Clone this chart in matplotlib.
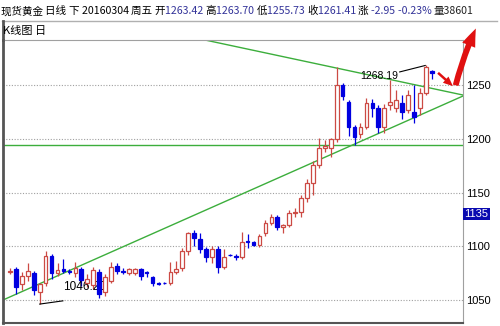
import matplotlib
matplotlib.use('Agg')
import matplotlib.pyplot as plt
from matplotlib.patches import FancyArrowPatch
from matplotlib.lines import Line2D
import numpy as np

plt.rcParams['font.family'] = ['Noto Sans CJK SC', 'DejaVu Sans']

# --- 日K线数据 ---
opens = [1076, 1079, 1065, 1072, 1075, 1057, 1066, 1091, 1075, 1079,
         1077, 1075, 1079, 1066, 1064, 1076, 1057, 1068, 1082, 1077,
         1075, 1075, 1079, 1076, 1071, 1065.5, 1066, 1066, 1076, 1080,
         1096, 1112, 1107, 1097, 1090, 1097, 1081, 1092, 1091, 1090,
         1105, 1104, 1101, 1112, 1122, 1127, 1118, 1120, 1131, 1132,
         1145, 1159, 1176, 1191, 1191, 1200, 1250, 1234, 1211, 1204,
         1211, 1233, 1229, 1211, 1231, 1229, 1233, 1227, 1225, 1229,
         1243, 1263.42]
highs = [1080, 1081, 1076, 1084, 1077, 1066, 1096, 1093, 1084, 1088,
         1079, 1085, 1081, 1074, 1081, 1079, 1074, 1085, 1084, 1080,
         1080, 1080, 1080, 1077, 1072, 1067, 1067, 1085, 1086, 1098,
         1113, 1115, 1112, 1099, 1100, 1100, 1097, 1093, 1093, 1113,
         1111, 1105, 1111, 1124, 1130, 1129, 1121, 1134, 1136, 1148,
         1163, 1179, 1201, 1199, 1201, 1267, 1252, 1236, 1213, 1215,
         1238, 1237, 1231, 1232, 1255, 1245, 1241, 1245, 1250, 1247,
         1268.19, 1263.70]
lows = [1074, 1056, 1059, 1068, 1055, 1046.2, 1063, 1070, 1072, 1075,
        1074, 1071, 1063, 1062, 1060, 1052, 1054, 1066, 1074, 1074,
        1073, 1073, 1069, 1071, 1063, 1064, 1065, 1064, 1074, 1077,
        1092, 1100, 1094, 1085, 1084, 1075, 1079, 1091, 1087, 1088,
        1098, 1100, 1099, 1110, 1120, 1115, 1112, 1118, 1127, 1127,
        1141, 1148, 1173, 1188, 1183, 1197, 1236, 1203, 1194, 1201,
        1209, 1220, 1205, 1205, 1227, 1225, 1218, 1224, 1215, 1222,
        1241, 1255.73]
closes = [1077, 1062, 1072, 1077, 1059, 1065, 1091, 1075, 1078, 1077,
          1076, 1080, 1069, 1070, 1078, 1056, 1071, 1081, 1077, 1076,
          1079, 1079, 1072, 1075, 1066, 1065, 1065.5, 1076, 1079, 1096,
          1112, 1108, 1097, 1090, 1097, 1081, 1090, 1091.5, 1090, 1104,
          1104, 1101, 1110, 1122, 1127, 1118, 1120, 1131, 1132, 1145,
          1159, 1176, 1191, 1193, 1200, 1250, 1240, 1211, 1202, 1211,
          1233, 1229, 1211, 1229, 1234, 1236, 1225, 1241, 1220, 1243,
          1267, 1261.41]

# 趋势线端点 (K线序号, 价格)
support_x = [-1.18, 76.26]
support_y = [1050.0, 1239.8]
resist_x = [32.83, 76.26]
resist_y = [1291.9, 1240.7]
neckline = 1194.4

yticks = [1050, 1100, 1150, 1200, 1250]
last_label = '1135'

header = [('现货黄金 ', 'black'), ('日线 ', 'black'), ('下 ', 'black'),
          ('20160304 ', 'black'), ('周五 ', 'black'), ('开', 'black'),
          ('1263.42 ', '#333399'), ('高', 'black'), ('1263.70 ', '#333399'),
          ('低', 'black'), ('1255.73 ', '#333399'), ('收', 'black'),
          ('1261.41 ', '#333399'), ('涨 ', 'black'), ('-2.95 ', '#333399'),
          ('-0.23% ', '#333399'), ('量38601', '#222222')]

RED = '#cc4a44'
BLUE = '#0000e0'
GREEN = '#3cae3c'

W, H = 500, 326
fig = plt.figure(figsize=(5.0, 3.26), dpi=100)
ax = fig.add_axes([3 / W, 1 - 323 / H, 460 / W, 283 / H])

x = np.arange(len(opens))
o = np.array(opens); c = np.array(closes)
hi = np.array(highs); lo = np.array(lows)
up = c >= o
col = np.where(up, RED, BLUE)

# 网格
for v in yticks:
    ax.axhline(v, color='#a0a0a0', lw=0.8, ls=(0, (1, 1.5)), zorder=1)

# 影线
ax.vlines(x, lo, hi, colors=col, lw=0.9, zorder=3)
# 实体
body = np.maximum(np.abs(c - o), 0.3)
bottom = np.minimum(o, c)
ax.bar(x[up], body[up], 0.62, bottom[up], facecolor='white',
       edgecolor=RED, lw=0.9, zorder=4)
ax.bar(x[~up], body[~up], 0.62, bottom[~up], facecolor=BLUE,
       edgecolor=BLUE, lw=0.9, zorder=4)

# 趋势线
ax.plot(support_x, support_y, color=GREEN, lw=1.0, zorder=2)
ax.plot(resist_x, resist_y, color=GREEN, lw=1.0, zorder=2)
ax.axhline(neckline, color=GREEN, lw=1.0, zorder=2)

# 最高/最低价标注
imax = int(np.argmax(hi))
imin = int(np.argmin(lo))
ax.plot([imax - 0.1, imax - 4.4], [hi[imax], hi[imax] - 6], color='black', lw=0.8, zorder=5)
ax.text(imax - 4.6, hi[imax] - 10, f'{hi[imax]:.2f}', fontsize=7.5,
        family=['Liberation Sans'], ha='right', va='center', zorder=3)
ax.plot([imin, imin + 3.9], [lo[imin], lo[imin] + 3], color='black', lw=0.8, zorder=5)
ax.text(imin + 4.0, lo[imin] + 16, f'{lo[imin]:.2f}', fontsize=8.5,
        family=['Liberation Sans'], ha='left', va='center', zorder=3)

ax.set_xlim(-1.18, 76.26)
ax.set_ylim(1028.6, 1291.9)
ax.set_xticks([])
ax.yaxis.tick_right()
ax.set_yticks(yticks)
ax.set_yticklabels([str(v) for v in yticks], fontsize=8, family=['Liberation Sans'])
ax.tick_params(axis='y', length=0, pad=2)
for s in ['top', 'right']:
    ax.spines[s].set_color('#a0a0a0')
ax.spines['left'].set_color('#555555')
ax.spines['left'].set_linewidth(2)
ax.spines['bottom'].set_color('#555555')
ax.spines['bottom'].set_linewidth(1.5)

# 最新价标签
ax.text(1.003, 1130, last_label, transform=ax.get_yaxis_transform(),
        fontsize=8, family=['Liberation Sans'], color='white', ha='left', va='center',
        bbox=dict(boxstyle='square,pad=0.12', fc='#0a0ab0', ec='none'))

# 标题栏: 依次排列
renderer = fig.canvas.get_renderer()
cur = 1.0
for txt, cl in header:
    t = fig.text(cur / W, 1 - 11 / H, txt, fontsize=7.6, color=cl, ha='left', va='center')
    cur += t.get_window_extent(renderer).width
fig.add_artist(Line2D([2 / W, 497 / W], [1 - 21 / H] * 2, color='#b0b0b0', lw=1))
fig.add_artist(Line2D([3 / W, 3 / W], [1 - 21 / H, 1 - 40 / H], color='#555555', lw=2))
fig.text(3 / W, 1 - 31 / H, 'K线图 日', fontsize=8, color='black', ha='left', va='center')

# 红色箭头
big = FancyArrowPatch((455 / W, 1 - 88 / H), (477 / W, 1 - 26 / H),
                      transform=fig.transFigure,
                      arrowstyle='simple,head_length=13,head_width=10,tail_width=4.2',
                      connectionstyle='arc3,rad=-0.05', color='#e01010', lw=0)
small = FancyArrowPatch((436 / W, 1 - 71 / H), (455 / W, 1 - 88 / H),
                        transform=fig.transFigure,
                        arrowstyle='simple,head_length=7,head_width=6,tail_width=1.8',
                        color='#e01010', lw=0)
fig.add_artist(big)
fig.add_artist(small)

fig.savefig('out.png', dpi=100)
